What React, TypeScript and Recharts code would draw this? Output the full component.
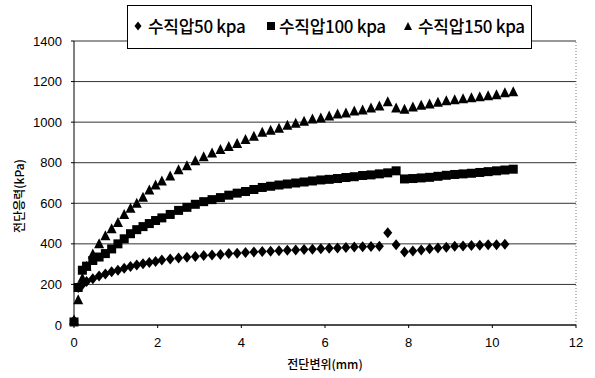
import { CartesianGrid, Label, Legend, ReferenceLine, Scatter, ScatterChart, XAxis, YAxis } from "recharts";

// 전단변위 (mm)
const DISP = [
  0, 0.1, 0.2, 0.3, 0.45, 0.6, 0.75, 0.9, 1.05, 1.2, 1.35, 1.5, 1.65, 1.8, 1.95, 2.1, 2.3, 2.5, 2.7, 2.9,
  3.1, 3.3, 3.5, 3.7, 3.9, 4.1, 4.3, 4.5, 4.7, 4.9, 5.1, 5.3, 5.5, 5.7, 5.9, 6.1, 6.3, 6.5, 6.7, 6.9,
  7.1, 7.3, 7.5, 7.7, 7.9, 8.1, 8.3, 8.5, 8.7, 8.9, 9.1, 9.3, 9.5, 9.7, 9.9, 10.1, 10.3, 10.5,
];

// 전단응력 (kPa)
const P50 = [
  20, 185, 200, 215, 228, 242, 252, 262, 270, 280, 288, 296, 302, 308, 313, 320, 325, 330, 334, 338,
  342, 345, 348, 352, 354, 357, 360, 362, 364, 366, 368, 370, 372, 374, 376, 378, 380, 382, 384, 386,
  387, 388, 455, 395, 360, 365, 370, 376, 380, 383, 388, 390, 392, 393, 395, 396, 398, null,
];
const P100 = [
  15, 185, 270, 290, 318, 335, 352, 375, 400, 425, 450, 470, 485, 500, 515, 528, 545, 565, 580, 595,
  608, 618, 628, 640, 650, 658, 668, 678, 684, 690, 695, 700, 705, 710, 715, 718, 722, 727, 731, 737,
  740, 745, 750, 760, 720, 722, 725, 728, 733, 738, 742, 745, 748, 752, 756, 760, 764, 768,
];
const P150 = [
  25, 125, 230, 290, 350, 400, 440, 475, 505, 545, 575, 600, 630, 665, 690, 710, 735, 765, 785, 810,
  830, 848, 865, 880, 895, 915, 930, 950, 960, 970, 985, 995, 1005, 1015, 1020, 1030, 1040, 1045, 1055, 1060,
  1070, 1080, 1100, 1070, 1063, 1075, 1083, 1090, 1098, 1105, 1110, 1115, 1120, 1125, 1130, 1135, 1145, 1150,
];

const X_TICKS = [0, 2, 4, 6, 8, 10, 12];
const Y_TICKS = [0, 200, 400, 600, 800, 1000, 1200, 1400];

const SERIES = [
  { name: "수직압50 kpa", values: P50, marker: "diamond" },
  { name: "수직압100 kpa", values: P100, marker: "square" },
  { name: "수직압150 kpa", values: P150, marker: "triangle" },
];

const toPoints = (ys: (number | null)[]) =>
  DISP.map((x, i) => ({ x, y: ys[i] })).filter((p) => p.y != null);

const NUM_FONT = "'Liberation Sans', Arial, sans-serif";
const KR_FONT = "'Noto Sans CJK KR', sans-serif";

const Diamond = (p: any) => (
  <polygon
    points={`${p.cx},${p.cy - 5.5} ${p.cx + 4.5},${p.cy} ${p.cx},${p.cy + 5.5} ${p.cx - 4.5},${p.cy}`}
    fill="#000"
  />
);
const Square = (p: any) => <rect x={p.cx - 4.5} y={p.cy - 4.5} width={9} height={9} fill="#000" />;
const Triangle = (p: any) => (
  <polygon
    points={`${p.cx},${p.cy - 5.5} ${p.cx + 5},${p.cy + 4.5} ${p.cx - 5},${p.cy + 4.5}`}
    fill="#000"
  />
);

const SHAPES: Record<string, any> = { diamond: Diamond, square: Square, triangle: Triangle };

function LegendMark({ kind }: { kind: string }) {
  return (
    <svg width={10} height={10} style={{ display: "block" }}>
      {kind === "diamond" && <polygon points="5,0.5 8.5,5 5,9.5 1.5,5" fill="#000" />}
      {kind === "square" && <rect x={1} y={1} width={8} height={8} fill="#000" />}
      {kind === "triangle" && <polygon points="5,1 9,9 1,9" fill="#000" />}
    </svg>
  );
}

const LEGEND_POS = [
  { mark: 5, text: 20 },
  { mark: 138, text: 151 },
  { mark: 275, text: 290 },
];

function LegendBox() {
  return (
    <div
      style={{
        position: "relative",
        width: 405,
        height: 44,
        border: "1px solid #000",
        background: "#fff",
        boxSizing: "border-box",
        fontFamily: KR_FONT,
        fontSize: 17,
        fontWeight: 500,
        color: "#000",
      }}
    >
      {SERIES.map((s, i) => (
        <div key={s.name}>
          <div style={{ position: "absolute", left: LEGEND_POS[i].mark, top: 15 }}>
            <LegendMark kind={s.marker} />
          </div>
          <span
            style={{
              position: "absolute",
              left: LEGEND_POS[i].text,
              top: 7,
              lineHeight: "26px",
              letterSpacing: -0.3,
              whiteSpace: "nowrap",
            }}
          >
            {s.name}
          </span>
        </div>
      ))}
    </div>
  );
}

export default function App() {
  return (
    <div style={{ position: "absolute", left: 0, top: 0, background: "#fff" }}>
      <ScatterChart width={595} height={378} margin={{ top: 41, right: 19, bottom: 23, left: 24 }}>
        <CartesianGrid horizontal vertical={false} stroke="#333" />
        <XAxis
          type="number"
          dataKey="x"
          domain={[0, 12]}
          ticks={X_TICKS}
          height={30}
          axisLine={{ stroke: "#000" }}
          tickLine={{ stroke: "#000" }}
          tickSize={3}
          tickMargin={10}
          tick={{ fill: "#000", fontSize: 13, fontFamily: NUM_FONT }}
        >
          <Label
            content={() => (
              <text x={325} y={369} textAnchor="middle" fontSize={12} fontWeight={500} fontFamily={KR_FONT} fill="#000">
                전단변위(mm)
              </text>
            )}
          />
        </XAxis>
        <YAxis
          type="number"
          dataKey="y"
          domain={[0, 1400]}
          ticks={Y_TICKS}
          width={50}
          axisLine={{ stroke: "#000" }}
          tickLine={{ stroke: "#000" }}
          tickSize={3}
          tickMargin={9}
          tick={{ fill: "#000", fontSize: 13, fontFamily: NUM_FONT }}
        >
          <Label
            content={() => (
              <text
                x={24}
                y={196}
                transform="rotate(-90 24 196)"
                textAnchor="middle"
                fontSize={12}
                fontWeight={500}
                fontFamily={KR_FONT}
                fill="#000"
              >
                전단응력(kPa)
              </text>
            )}
          />
        </YAxis>
        <ReferenceLine x={12} stroke="#777" strokeDasharray="1 2" />
        {SERIES.map((s) => (
          <Scatter
            key={s.name}
            name={s.name}
            data={toPoints(s.values)}
            fill="#000"
            shape={SHAPES[s.marker]}
            isAnimationActive={false}
          />
        ))}
        <Legend
          layout="horizontal"
          verticalAlign="middle"
          align="center"
          wrapperStyle={{ top: 5, left: 127, width: "auto" }}
          content={() => <LegendBox />}
        />
      </ScatterChart>
    </div>
  );
}
